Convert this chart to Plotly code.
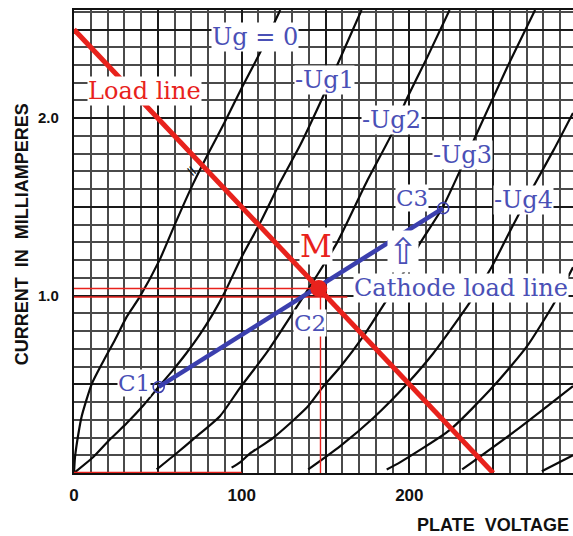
import plotly.graph_objects as go

# Plate characteristic family: plate voltage (V) vs plate current (mA)
ug0_v = [0, 0.6, 2.6, 4.6, 10.5, 17.5, 24.4, 31.4, 39, 51, 61, 71, 80, 90, 100, 111, 123]
ug0_i = [0, 0.09, 0.22, 0.32, 0.5, 0.63, 0.75, 0.88, 0.99, 1.2, 1.42, 1.63, 1.8, 1.98, 2.17, 2.37, 2.61]

ug1_v = [0, 11.5, 21.5, 31.4, 41.3, 50.5, 59, 67, 75, 83, 90, 99, 111, 123, 135, 146.5, 157, 171.5]
ug1_i = [0, 0.09, 0.19, 0.28, 0.38, 0.485, 0.58, 0.675, 0.78, 0.9, 1.02, 1.2, 1.41, 1.64, 1.85, 2.08, 2.3, 2.61]

ug2_v = [49.3, 61, 71, 87, 99, 115, 131, 144, 157, 175, 190, 198, 211, 224]
ug2_i = [0.02, 0.11, 0.19, 0.32, 0.48, 0.68, 0.91, 1.1, 1.3, 1.65, 1.92, 2.1, 2.35, 2.61]

ug3_v = [94, 99, 105, 119, 139, 148, 159, 172.5, 185.5, 196, 206, 220, 242, 258, 275]
ug3_i = [0.03, 0.06, 0.11, 0.2, 0.37, 0.48, 0.6, 0.77, 0.96, 1.12, 1.29, 1.5, 1.95, 2.28, 2.61]

ug4_v = [139.7, 158.6, 178.5, 198.4, 214.3, 236, 249, 262, 274, 286, 297.6]
ug4_i = [0.02, 0.15, 0.31, 0.5, 0.675, 0.96, 1.16, 1.4, 1.615, 1.82, 2.03]

ug5_v = [186.5, 194.4, 224.2, 250, 270, 286.5, 297.6]
ug5_i = [0.02, 0.06, 0.243, 0.487, 0.712, 0.96, 1.16]

ug6_v = [231.5, 264, 297.6]
ug6_i = [0.02, 0.243, 0.49]

ug7_v = [279, 297.6]
ug7_i = [0.01, 0.1]

# Plate load line and cathode load line
load_v = [0, 250]
load_i = [2.5, 0]
cathode_v = [50.5, 220.2]
cathode_i = [0.485, 1.493]

# Operating point M
m_v = 146
m_i = 1.04

# Red guide lines
guide_h1_v = [0, 146]
guide_h1_i = [1.04, 1.04]
guide_h2_v = [0, 163]
guide_h2_i = [0.992, 0.992]
guide_vert_v = [147, 147]
guide_vert_i = [0, 1.04]
base_v = [0, 100]
base_i = [0, 0]

# Tick labels
x_tickvals = [0, 50, 100, 150, 200, 250]
x_ticktext = ["0", "", "100", "", "200", ""]
y_tickvals = [0, 0.5, 1.0, 1.5, 2.0, 2.5]
y_ticktext = ["", "", "1.0", "", "2.0", ""]

RED = "#e8221c"
BLUE = "#3b3fae"
TEXT_BLUE = "#4a50b6"

fig = go.Figure()

for v, i in [(ug0_v, ug0_i), (ug1_v, ug1_i), (ug2_v, ug2_i), (ug3_v, ug3_i),
             (ug4_v, ug4_i), (ug5_v, ug5_i), (ug6_v, ug6_i), (ug7_v, ug7_i)]:
    fig.add_trace(go.Scatter(x=v, y=i, mode="lines",
                             line=dict(color="#0a0a0a", width=2.2, shape="spline", smoothing=0.6),
                             hoverinfo="skip", showlegend=False))

for v, i, w in [(guide_h1_v, guide_h1_i, 1.4), (guide_h2_v, guide_h2_i, 1.4),
                (guide_vert_v, guide_vert_i, 1.4), (base_v, base_i, 2.6)]:
    fig.add_trace(go.Scatter(x=v, y=i, mode="lines", line=dict(color=RED, width=w),
                             hoverinfo="skip", showlegend=False))

fig.add_trace(go.Scatter(x=cathode_v, y=cathode_i, mode="lines",
                         line=dict(color=BLUE, width=4.5), hoverinfo="skip", showlegend=False))
fig.add_trace(go.Scatter(x=cathode_v, y=cathode_i, mode="markers",
                         marker=dict(size=11, color="rgba(0,0,0,0)", line=dict(color=BLUE, width=1.6)),
                         hoverinfo="skip", showlegend=False))

fig.add_trace(go.Scatter(x=load_v, y=load_i, mode="lines",
                         line=dict(color=RED, width=5), hoverinfo="skip", showlegend=False))

fig.add_trace(go.Scatter(x=[m_v], y=[m_i], mode="markers",
                         marker=dict(size=17, color=RED), hoverinfo="skip", showlegend=False))

# hollow up-arrow pointing at the cathode load line (drawn first so labels sit above it)
fig.add_annotation(x=196.2, y=1.25, xref="x", yref="y", text="⇧", showarrow=False,
                   font=dict(family="DejaVu Sans", size=36, color=TEXT_BLUE),
                   bgcolor="white", borderpad=0)

serif = "DejaVu Serif"
labels = [
    ("Ug = 0", 107.9, 2.459, TEXT_BLUE, 24),
    ("-Ug1", 149.1, 2.217, TEXT_BLUE, 24),
    ("-Ug2", 189.6, 1.991, TEXT_BLUE, 24),
    ("-Ug3", 231.4, 1.794, TEXT_BLUE, 24),
    ("-Ug4", 268.3, 1.54, TEXT_BLUE, 24),
    ("Load line", 42.3, 2.155, RED, 24),
    ("Cathode load line", 230.8, 1.043, TEXT_BLUE, 24),
    ("C1", 35.8, 0.508, TEXT_BLUE, 23),
    ("C2", 140.7, 0.846, TEXT_BLUE, 23),
    ("C3", 201.5, 1.551, TEXT_BLUE, 23),
    ("M", 144.3, 1.28, RED, 31),
]
for text, x, y, color, size in labels:
    fig.add_annotation(x=x, y=y, xref="x", yref="y", text=text, showarrow=False,
                       font=dict(family=serif, size=size, color=color),
                       bgcolor="white", borderpad=0, xanchor="center", yanchor="middle")

fig.add_annotation(x=70.2, y=1.70, xref="x", yref="y", text="=", showarrow=False,
                   font=dict(family="DejaVu Sans", size=15, color="#111111"), textangle=50)

axis_font = dict(family="Liberation Sans", size=18, color="#111111", weight="bold")
fig.add_annotation(x=-0.104, y=0.516, xref="paper", yref="paper",
                   text="CURRENT  IN  MILLIAMPERES", showarrow=False, textangle=-90,
                   font=axis_font, xanchor="center", yanchor="middle")
fig.add_annotation(x=0.84, y=-0.112, xref="paper", yref="paper",
                   text="PLATE  VOLTAGE", showarrow=False,
                   font=axis_font, xanchor="center", yanchor="middle")

tick_font = dict(family="Liberation Sans", size=17, color="#111111", weight="bold")
fig.update_layout(
    width=573, height=536,
    margin=dict(l=74, r=0, t=10, b=63),
    paper_bgcolor="white", plot_bgcolor="white",
    showlegend=False,
    xaxis=dict(range=[0, 297.6], tickmode="array", tickvals=x_tickvals, ticktext=x_ticktext,
               showgrid=True, gridcolor="#1a1a1a", gridwidth=2.4,
               minor=dict(tickmode="linear", tick0=0, dtick=10, showgrid=True,
                          gridcolor="#4a4a4a", gridwidth=1.5),
               zeroline=False, showline=True, linecolor="#111111", linewidth=2.4, mirror=True,
               ticks="", tickfont=tick_font, ticklabelstandoff=5, fixedrange=True),
    yaxis=dict(range=[0, 2.61], tickmode="array", tickvals=y_tickvals, ticktext=y_ticktext,
               showgrid=True, gridcolor="#1a1a1a", gridwidth=2.4,
               minor=dict(tickmode="linear", tick0=0, dtick=0.1, showgrid=True,
                          gridcolor="#4a4a4a", gridwidth=1.5),
               zeroline=False, showline=True, linecolor="#111111", linewidth=2.4,
               ticks="", tickfont=dict(family="Liberation Sans", size=15, color="#111111", weight="bold"),
               ticklabelstandoff=10, fixedrange=True),
)

fig.write_html("out.html")
